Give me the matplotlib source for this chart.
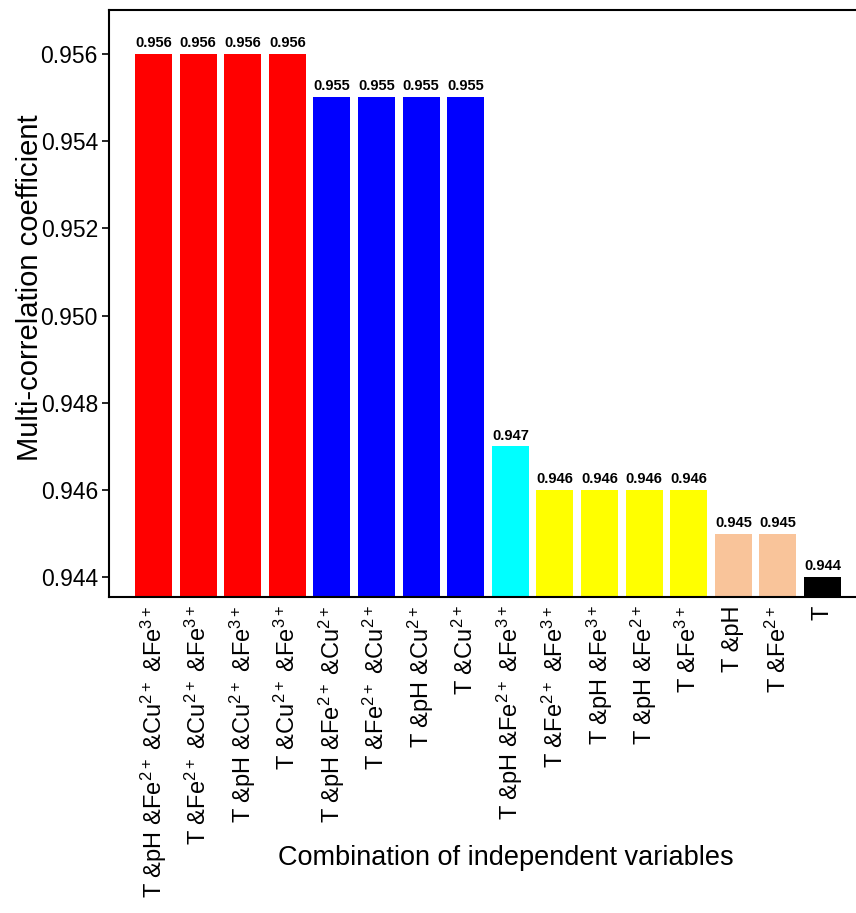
import numpy as np
import matplotlib
matplotlib.use('Agg')
import matplotlib.pyplot as plt

plt.rcParams['font.family'] = ['Liberation Sans', 'DejaVu Sans']
plt.rcParams['mathtext.fontset'] = 'custom'
plt.rcParams['mathtext.rm'] = 'Liberation Sans'
plt.rcParams['mathtext.it'] = 'Liberation Sans'
plt.rcParams['mathtext.sf'] = 'Liberation Sans'

# data
combos = [
    'T &pH &Fe2+ &Cu2+ &Fe3+',
    'T &Fe2+ &Cu2+ &Fe3+',
    'T &pH &Cu2+ &Fe3+',
    'T &Cu2+ &Fe3+',
    'T &pH &Fe2+ &Cu2+',
    'T &Fe2+ &Cu2+',
    'T &pH &Cu2+',
    'T &Cu2+',
    'T &pH &Fe2+ &Fe3+',
    'T &Fe2+ &Fe3+',
    'T &pH &Fe3+',
    'T &pH &Fe2+',
    'T &Fe3+',
    'T &pH',
    'T &Fe2+',
    'T',
]
coef = [0.956, 0.956, 0.956, 0.956,
        0.955, 0.955, 0.955, 0.955,
        0.947,
        0.946, 0.946, 0.946, 0.946,
        0.945, 0.945,
        0.944]
colors = ['#FF0000'] * 4 + ['#0000FF'] * 4 + ['#00FFFF'] + ['#FFFF00'] * 4 + ['#F9C49A'] * 2 + ['#000000']


def fmt(label):
    # ion charges as superscripts
    return label.replace('2+', r'$^{\mathsf{2+}}$').replace('3+', r'$^{\mathsf{3+}}$')


base = 0.94355
top = 0.957

fig = plt.figure(figsize=(8.56, 9.13), dpi=100)
ax = fig.add_axes([109 / 856, 1 - 597 / 913, 1 - 109 / 856, 587 / 913])

x = np.arange(len(combos))
heights = np.array(coef) - base
ax.bar(x, heights, bottom=base, width=0.83, color=colors)

for xi, v in zip(x, coef):
    ax.text(xi, v + 0.00009, f'{v:.3f}', ha='center', va='bottom',
            fontsize=10.5, fontweight='bold')

ax.set_xlim(-1.0, 15.75)
ax.set_ylim(base, top)
ax.set_yticks([0.944, 0.946, 0.948, 0.950, 0.952, 0.954, 0.956])
ax.set_yticklabels(['0.944', '0.946', '0.948', '0.950', '0.952', '0.954', '0.956'])
ax.set_xticks(x)
ax.set_xticklabels([fmt(c) for c in combos], rotation=90, va='top', ha='center')
ax.tick_params(axis='x', length=0, labelsize=17, pad=6)
ax.tick_params(axis='y', direction='out', length=5, width=1.2, labelsize=16.5, pad=3)

ax.spines['right'].set_visible(False)
for s in ['left', 'top', 'bottom']:
    ax.spines[s].set_linewidth(1.5)

fig.text(30 / 856, 1 - 288 / 913, 'Multi-correlation coefficient',
         fontsize=21, rotation=90, ha='center', va='center')
fig.text(506 / 856, 1 - 858 / 913, 'Combination of independent variables',
         fontsize=19.5, ha='center', va='center')

fig.savefig('out.png', dpi=100)
